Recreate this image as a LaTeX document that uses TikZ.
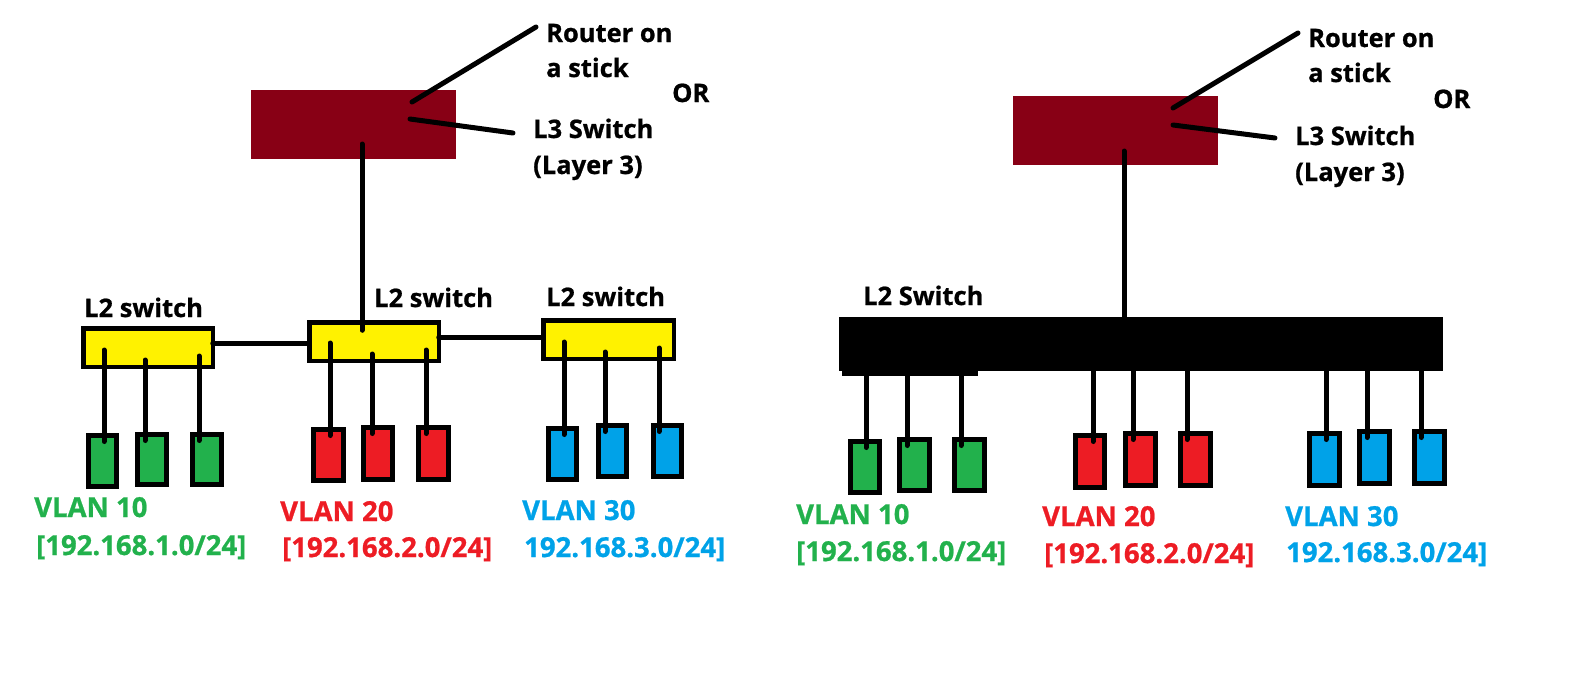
\documentclass[tikz,border=0pt]{standalone}
\usepackage{fontspec}
\setmainfont{Open Sans}[BoldFeatures={FakeBold=0.8}]
\usetikzlibrary{calc}
\definecolor{routerc}{HTML}{880015}
\definecolor{swy}{HTML}{FFF200}
\definecolor{vgreen}{HTML}{22B14C}
\definecolor{vred}{HTML}{ED1C24}
\definecolor{vblue}{HTML}{00A2E8}
\begin{document}
\begin{tikzpicture}[x=1pt,y=-1pt,
  wire/.style={line width=5pt, line cap=round},
  drop/.style={wire, shorten >=-6pt},
  routerbox/.style={fill=routerc, inner sep=0, outer sep=0, minimum width=205pt, minimum height=69pt},
  l2box/.style={draw, line width=4.5pt, fill=swy, inner sep=0, outer sep=0, minimum height=38.5pt},
  host/.style={draw, line width=5pt, inner sep=0, outer sep=0},
  ghost/.style={host, fill=vgreen},
  rhost/.style={host, fill=vred},
  bhost/.style={host, fill=vblue},
  lbl/.style={anchor=base west, inner sep=0, font=\fontsize{25.5}{30}\selectfont\bfseries},
  vlbl/.style={anchor=base west, inner sep=0, font=\fontsize{27.5}{32}\selectfont\bfseries},
]
\useasboundingbox (0,0) rectangle (1585,694);

% ================= LEFT =================
\node[routerbox] (rtL) at (353.5,124.5) {};
\node[lbl] (tRoL) at (546,42) {Router on};
\node[lbl] (tStL) at (546,77) {a stick};
\node[lbl] (tOrL) at (672,102) {OR};
\node[lbl] (tL3L) at (533,138) {L3 Switch};
\node[lbl] (tLyL) at (533,174) {(Layer 3)};
\coordinate (ldL1) at (412,102);
\coordinate (ldL1e) at (536,27);
\coordinate (ldL2) at (410,119);
\coordinate (ldL2e) at (513,133);
\draw[wire] (ldL1) -- (ldL1e);
\draw[wire] (ldL2) -- (ldL2e);

\node[l2box, minimum width=129.5pt] (sL1) at (148,347.5) {};
\node[l2box, minimum width=129.5pt] (sL2) at (374,341.5) {};
\node[l2box, minimum width=130.5pt] (sL3) at (608.5,339.5) {};
\node[lbl] (tsL1) at (84,317) {L2 switch};
\node[lbl] (tsL2) at (374,307) {L2 switch};
\node[lbl] (tsL3) at (546,306) {L2 switch};

\coordinate (upL) at (362,144);
\draw[wire, shorten >=-8pt] (upL) -- (upL |- sL2.north);
\draw[wire] ([yshift=4.5pt]sL1.east) -- ([yshift=4.5pt]sL1.east -| sL2.west);
\draw[wire] ([yshift=4.5pt]sL2.east) -- ([yshift=4.5pt]sL2.east -| sL3.west);

\node[ghost, minimum width=28pt, minimum height=51pt] (gL1) at (102.5,461) {};
\node[ghost, minimum width=29pt, minimum height=50pt] (gL2) at (152,459.5) {};
\node[ghost, minimum width=29pt, minimum height=50pt] (gL3) at (207,459.5) {};
\node[rhost, minimum width=30pt, minimum height=51pt] (rL1) at (328.5,455) {};
\node[rhost, minimum width=29pt, minimum height=52pt] (rL2) at (378,453.5) {};
\node[rhost, minimum width=30pt, minimum height=52pt] (rL3) at (433.5,453.5) {};
\node[bhost, minimum width=28pt, minimum height=51pt] (bL1) at (562.5,454) {};
\node[bhost, minimum width=28pt, minimum height=51pt] (bL2) at (612.5,451) {};
\node[bhost, minimum width=28pt, minimum height=51pt] (bL3) at (667.5,451) {};

\coordinate (pL1) at (104,350);
\coordinate (pL2) at (145,360);
\coordinate (pL3) at (199,356);
\coordinate (pL4) at (330,343);
\coordinate (pL5) at (372,354);
\coordinate (pL6) at (426,350);
\coordinate (pL7) at (564,342);
\coordinate (pL8) at (605,352);
\coordinate (pL9) at (659,348);
\draw[drop] (pL1) -- (pL1 |- gL1.north);
\draw[drop] (pL2) -- (pL2 |- gL2.north);
\draw[drop] (pL3) -- (pL3 |- gL3.north);
\draw[drop] (pL4) -- (pL4 |- rL1.north);
\draw[drop] (pL5) -- (pL5 |- rL2.north);
\draw[drop] (pL6) -- (pL6 |- rL3.north);
\draw[drop] (pL7) -- (pL7 |- bL1.north);
\draw[drop] (pL8) -- (pL8 |- bL2.north);
\draw[drop] (pL9) -- (pL9 |- bL3.north);

\node[vlbl, text=vgreen] (vL10) at (34,517) {VLAN 10};
\node[vlbl, text=vgreen] (iL10) at (36,555) {[192.168.1.0/24]};
\node[vlbl, text=vred] (vL20) at (280,521) {VLAN 20};
\node[vlbl, text=vred] (iL20) at (282,557) {[192.168.2.0/24]};
\node[vlbl, text=vblue] (vL30) at (522,520) {VLAN 30};
\node[vlbl, text=vblue] (iL30) at (524,557) {192.168.3.0/24]};

% ================= RIGHT =================
\node[routerbox] (rtR) at (1115.5,130.5) {};
\node[lbl] (tRoR) at (1308,47) {Router on};
\node[lbl] (tStR) at (1308,82) {a stick};
\node[lbl] (tOrR) at (1433,108) {OR};
\node[lbl] (tL3R) at (1295,145) {L3 Switch};
\node[lbl] (tLyR) at (1295,181) {(Layer 3)};
\coordinate (ldR1) at (1173,108);
\coordinate (ldR1e) at (1298,33);
\coordinate (ldR2) at (1173,125);
\coordinate (ldR2e) at (1275,138);
\draw[wire] (ldR1) -- (ldR1e);
\draw[wire] (ldR2) -- (ldR2e);

\node[fill=black, inner sep=0, outer sep=0, minimum width=604pt, minimum height=54pt] (bar) at (1141,344) {};
\fill[black] (842,317) rectangle (978,376);
\node[lbl] (tbar) at (863,305) {L2 Switch};

\coordinate (upR) at (1124,151);
\draw[wire, shorten >=-5pt] (upR) -- (upR |- bar.north);

\node[ghost, minimum width=29pt, minimum height=51pt] (gR1) at (865,467) {};
\node[ghost, minimum width=30pt, minimum height=51pt] (gR2) at (914.5,465) {};
\node[ghost, minimum width=30pt, minimum height=51pt] (gR3) at (969.5,465) {};
\node[rhost, minimum width=29pt, minimum height=52pt] (rR1) at (1090,461.5) {};
\node[rhost, minimum width=30pt, minimum height=52pt] (rR2) at (1140.5,459.5) {};
\node[rhost, minimum width=30pt, minimum height=52pt] (rR3) at (1195.5,459.5) {};
\node[bhost, minimum width=30pt, minimum height=52pt] (bR1) at (1324.5,459.5) {};
\node[bhost, minimum width=30pt, minimum height=52pt] (bR2) at (1374.5,457.5) {};
\node[bhost, minimum width=30pt, minimum height=52pt] (bR3) at (1429.5,457.5) {};

\coordinate (pR1) at (866,370);
\coordinate (pR2) at (907,370);
\coordinate (pR3) at (961,370);
\coordinate (pR4) at (1093,365);
\coordinate (pR5) at (1133,365);
\coordinate (pR6) at (1187,365);
\coordinate (pR7) at (1326,365);
\coordinate (pR8) at (1367,365);
\coordinate (pR9) at (1421,365);
\draw[drop] (pR1) -- (pR1 |- gR1.north);
\draw[drop] (pR2) -- (pR2 |- gR2.north);
\draw[drop] (pR3) -- (pR3 |- gR3.north);
\draw[drop] (pR4) -- (pR4 |- rR1.north);
\draw[drop] (pR5) -- (pR5 |- rR2.north);
\draw[drop] (pR6) -- (pR6 |- rR3.north);
\draw[drop] (pR7) -- (pR7 |- bR1.north);
\draw[drop] (pR8) -- (pR8 |- bR2.north);
\draw[drop] (pR9) -- (pR9 |- bR3.north);

\node[vlbl, text=vgreen] (vR10) at (796,524) {VLAN 10};
\node[vlbl, text=vgreen] (iR10) at (796,561) {[192.168.1.0/24]};
\node[vlbl, text=vred] (vR20) at (1042,526) {VLAN 20};
\node[vlbl, text=vred] (iR20) at (1044,563) {[192.168.2.0/24]};
\node[vlbl, text=vblue] (vR30) at (1285,526) {VLAN 30};
\node[vlbl, text=vblue] (iR30) at (1286,562) {192.168.3.0/24]};
\end{tikzpicture}
\end{document}
